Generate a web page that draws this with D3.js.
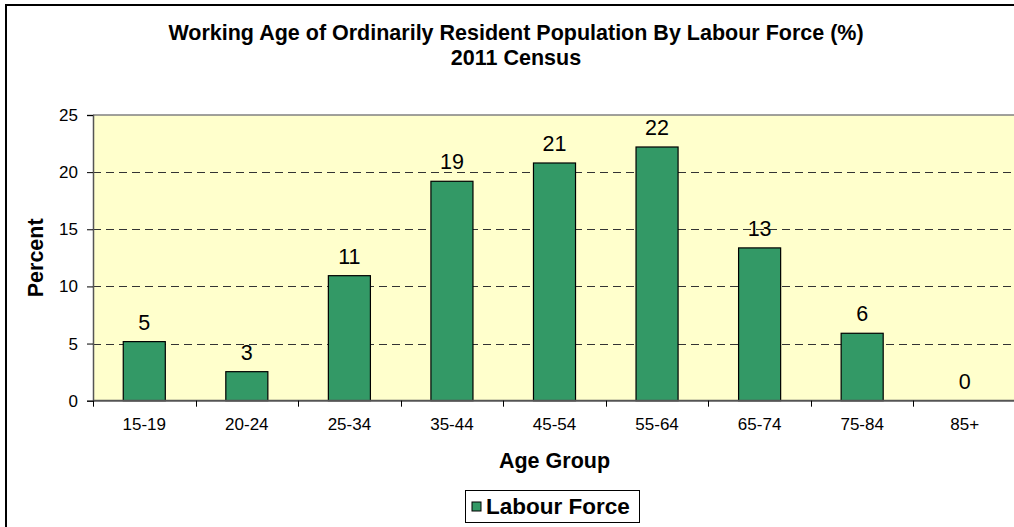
<!DOCTYPE html>
<html>
<head>
<meta charset="utf-8">
<script src="https://cdn.jsdelivr.net/npm/d3@7"></script>
<style>
  body { margin: 0; background: #fff; }
  svg { display: block; font-family: Arial, "Liberation Sans", sans-serif; }
</style>
</head>
<body>
<div id="chart"></div>
<script>
// data
var ageGroups = ["15-19", "20-24", "25-34", "35-44", "45-54", "55-64", "65-74", "75-84", "85+"];
var labourForce = [5.17, 2.54, 10.94, 19.2, 20.8, 22.2, 13.37, 5.9, 0];
var yTicks = [0, 5, 10, 15, 20, 25];

var width = 1014, height = 527;
var plot = { left: 93, top: 115, right: 1016, bottom: 400.7 };

var svg = d3.select("#chart")
    .append("svg")
    .attr("width", width)
    .attr("height", height);

// outer chart border (runs off the right and bottom edge like the original)
svg.append("rect")
    .attr("x", 6)
    .attr("y", 5)
    .attr("width", 1030)
    .attr("height", 540)
    .attr("fill", "#fff")
    .attr("stroke", "#000")
    .attr("stroke-width", 2);

var x = d3.scaleBand()
    .domain(ageGroups)
    .range([plot.left, plot.right])
    .paddingInner(0.59)
    .paddingOuter(0.295);

var y = d3.scaleLinear()
    .domain([0, 25])
    .range([plot.bottom, plot.top]);

// plot background
svg.append("rect")
    .attr("x", plot.left)
    .attr("y", plot.top)
    .attr("width", plot.right - plot.left)
    .attr("height", plot.bottom - plot.top)
    .attr("fill", "#ffffcc");

// dashed gridlines
svg.append("g")
    .selectAll("line")
    .data(yTicks.filter(function(d){ return d > 0 && d < 25; }))
    .join("line")
    .attr("x1", plot.left)
    .attr("x2", plot.right)
    .attr("y1", function(d){ return Math.round(y(d)) + 0.5; })
    .attr("y2", function(d){ return Math.round(y(d)) + 0.5; })
    .attr("stroke", "#333")
    .attr("stroke-dasharray", "8,5");

// top border of plot
svg.append("line")
    .attr("x1", plot.left)
    .attr("x2", plot.right)
    .attr("y1", y(25))
    .attr("y2", y(25))
    .attr("stroke", "#808080")
    .attr("stroke-width", 1.5);

// bars
svg.append("g")
    .selectAll("rect")
    .data(labourForce.filter(function(d){ return d > 0; }))
    .join("rect")
    .attr("x", function(d, i){ return x(ageGroups[i]); })
    .attr("y", function(d){ return y(d); })
    .attr("width", x.bandwidth())
    .attr("height", function(d){ return y(0) - y(d); })
    .attr("fill", "#339966")
    .attr("stroke", "#000")
    .attr("stroke-width", 1.2);

// value labels
svg.append("g")
    .selectAll("text")
    .data(labourForce)
    .join("text")
    .attr("x", function(d, i){ return x(ageGroups[i]) + x.bandwidth() / 2; })
    .attr("y", function(d){ return y(d) - 12; })
    .attr("text-anchor", "middle")
    .attr("font-size", 21.5)
    .attr("fill", "#000")
    .text(function(d){ return Math.round(d); });

// y axis
var yAxis = svg.append("g")
    .attr("transform", "translate(" + plot.left + ",0)")
    .call(d3.axisLeft(y).tickValues(yTicks).tickSize(6).tickPadding(9));
yAxis.select(".domain").attr("stroke", "#555").attr("stroke-width", 1.5);
yAxis.selectAll(".tick line").attr("stroke", "#000");
yAxis.selectAll("text").attr("font-size", 17).attr("font-family", "Arial, 'Liberation Sans', sans-serif").attr("fill", "#000");

// x axis: ticks sit on the band boundaries
var xAxis = svg.append("g")
    .attr("transform", "translate(0," + plot.bottom + ")");
xAxis.append("line")
    .attr("x1", plot.left)
    .attr("x2", plot.right)
    .attr("stroke", "#555")
    .attr("stroke-width", 2);
xAxis.selectAll(".xtick")
    .data(ageGroups)
    .join("line")
    .attr("class", "xtick")
    .attr("x1", function(d){ return Math.round(x(d) - x.step() * 0.295) + 0.5; })
    .attr("x2", function(d){ return Math.round(x(d) - x.step() * 0.295) + 0.5; })
    .attr("y1", 0)
    .attr("y2", 6)
    .attr("stroke", "#000");
xAxis.selectAll(".xlabel")
    .data(ageGroups)
    .join("text")
    .attr("class", "xlabel")
    .attr("x", function(d){ return x(d) + x.bandwidth() / 2; })
    .attr("y", 29)
    .attr("text-anchor", "middle")
    .attr("font-size", 17)
    .text(function(d){ return d; });

// titles
var title = svg.append("text")
    .attr("text-anchor", "middle")
    .attr("font-size", 21.5)
    .attr("font-weight", "bold");
title.append("tspan").attr("x", 516).attr("y", 40)
    .text("Working Age of Ordinarily Resident Population By Labour Force (%)");
title.append("tspan").attr("x", 516).attr("y", 65)
    .text("2011 Census");

svg.append("text")
    .attr("x", (plot.left + plot.right) / 2)
    .attr("y", 468)
    .attr("text-anchor", "middle")
    .attr("font-size", 21.5)
    .attr("font-weight", "bold")
    .text("Age Group");

svg.append("text")
    .attr("transform", "translate(43," + (plot.top + plot.bottom) / 2 + ") rotate(-90)")
    .attr("text-anchor", "middle")
    .attr("font-size", 21.5)
    .attr("font-weight", "bold")
    .text("Percent");

// legend
var legend = svg.append("g");
legend.append("rect")
    .attr("x", 465.5)
    .attr("y", 490.5)
    .attr("width", 174)
    .attr("height", 32)
    .attr("fill", "#fff")
    .attr("stroke", "#000");
legend.append("rect")
    .attr("x", 472)
    .attr("y", 502)
    .attr("width", 9)
    .attr("height", 9)
    .attr("fill", "#339966")
    .attr("stroke", "#000");
legend.append("text")
    .attr("x", 486)
    .attr("y", 514)
    .attr("font-size", 22.5)
    .attr("font-weight", "bold")
    .text("Labour Force");
</script>
</body>
</html>
